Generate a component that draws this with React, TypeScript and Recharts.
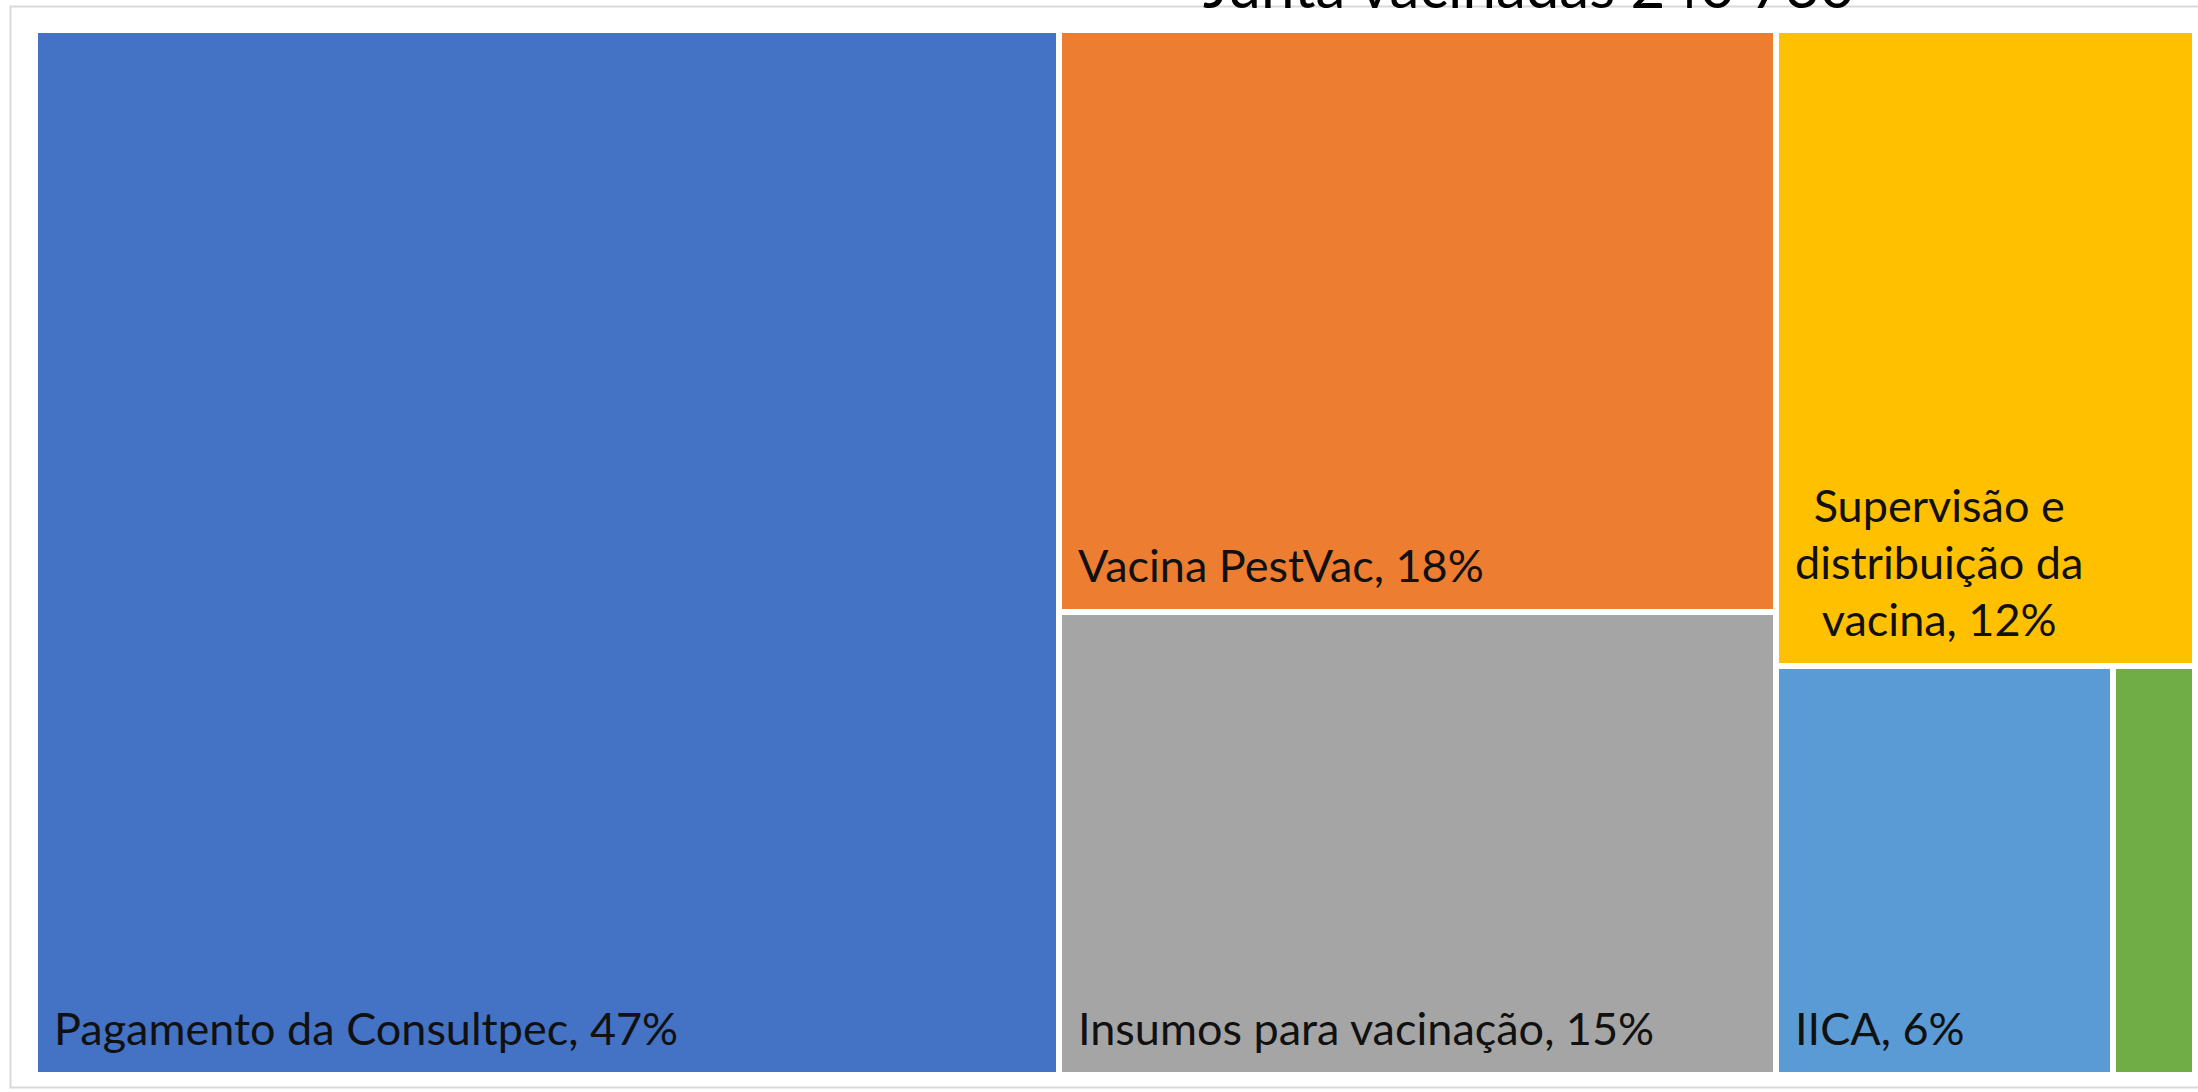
import React from 'react';
import { Treemap } from 'recharts';

// values (share of total, %)
const categories = [
  'Pagamento da Consultpec',
  'Vacina PestVac',
  'Insumos para vacinação',
  'Supervisão e distribuição da vacina',
  'IICA',
  'Outros'
];
const shares = [47.4, 18.5, 14.7, 11.8, 6.1, 1.5];
const shareLabels = ['47%', '18%', '15%', '12%', '6%', '1%'];

const COLORS = ['#4472C4', '#ED7D31', '#A5A5A5', '#FFC000', '#5B9BD5', '#70AD47'];

const TITLE = 'Junta vacinadas 240 730';
const FONT = 'Lato, "Open Sans", sans-serif';
const LABEL_SIZE = 45;
const LINE_GAP = 57;
const GAP = 6;

const treeData = categories.map((name, i) => ({
  name,
  value: shares[i],
  label: `${name}, ${shareLabels[i]}`
}));

let measureCtx: CanvasRenderingContext2D | null = null;
const measure = (text: string) => {
  if (!measureCtx) {
    measureCtx = document.createElement('canvas').getContext('2d');
  }
  if (!measureCtx) return text.length * LABEL_SIZE * 0.5;
  measureCtx.font = `${LABEL_SIZE}px Lato`;
  return measureCtx.measureText(text).width;
};

// greedy word wrap, returns null when a word does not fit at all
const wrapLabel = (text: string, maxWidth: number): string[] | null => {
  const words = text.split(' ');
  const lines: string[] = [];
  let current = '';
  for (const w of words) {
    if (measure(w) > maxWidth) return null;
    const next = current ? `${current} ${w}` : w;
    if (measure(next) > maxWidth && current) {
      lines.push(current);
      current = w;
    } else {
      current = next;
    }
  }
  if (current) lines.push(current);
  return lines;
};

const TileContent = (props: any) => {
  const { x, y, width, height, depth, index, label } = props;
  if (depth !== 1) return null;

  const innerX = x + GAP / 2;
  const innerW = width - GAP;
  const bottom = y + height - GAP / 2;
  const pad = 16;
  const lines = label ? wrapLabel(label, innerW - pad * 2) : null;
  const fitsHeight = lines && lines.length * LINE_GAP < height - 20;

  let textEl = null;
  if (lines && fitsHeight) {
    if (lines.length === 1) {
      textEl = (
        <text
          x={innerX + pad}
          y={bottom - 27}
          fontSize={LABEL_SIZE}
          fontFamily={FONT}
          fill="#111"
          stroke="none"
        >
          {lines[0]}
        </text>
      );
    } else {
      const blockW = Math.max(...lines.map(measure));
      const cx = innerX + pad + blockW / 2;
      textEl = (
        <text textAnchor="middle" fontSize={LABEL_SIZE} fontFamily={FONT} fill="#111" stroke="none">
          {lines.map((ln, i) => (
            <tspan key={i} x={cx} y={bottom - 27 - (lines.length - 1 - i) * LINE_GAP}>
              {ln}
            </tspan>
          ))}
        </text>
      );
    }
  }

  return (
    <g>
      <rect
        x={x}
        y={y}
        width={width}
        height={height}
        fill={COLORS[index % COLORS.length]}
        stroke="#fff"
        strokeWidth={GAP}
      />
      {textEl}
    </g>
  );
};

export default function App() {
  return (
    <div
      style={{
        position: 'fixed',
        left: 0,
        top: 0,
        width: 2198,
        height: 1092,
        background: '#fff',
        overflow: 'hidden'
      }}
    >
      <svg width={2198} height={1092} style={{ position: 'absolute', left: 0, top: 0 }}>
        <rect x={10.5} y={6.5} width={2220} height={1081} fill="none" stroke="#d9d9d9" strokeWidth={2} />
        <text x={1203} y={8} fontSize={60} fontFamily={FONT} fill="#000">
          {TITLE}
        </text>
      </svg>
      <div style={{ position: 'absolute', left: 35, top: 30 }}>
        <Treemap
          width={2160}
          height={1045}
          data={treeData}
          dataKey="value"
          nameKey="name"
          stroke="#fff"
          isAnimationActive={false}
          content={<TileContent />}
        />
      </div>
    </div>
  );
}
